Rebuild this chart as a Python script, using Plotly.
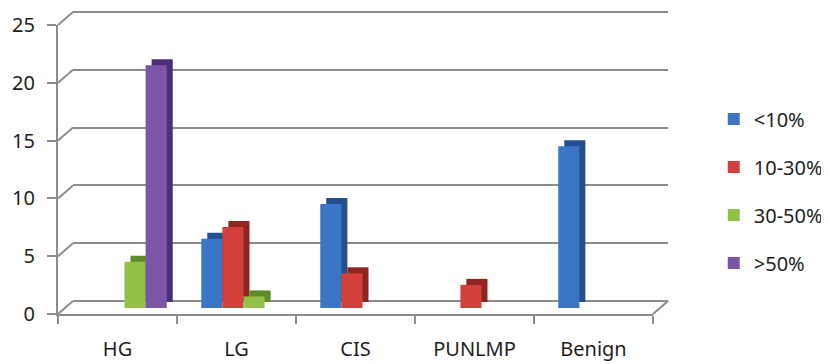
import plotly.graph_objects as go

categories = ["HG", "LG", "CIS", "PUNLMP", "Benign"]
series_names = ["<10%", "10-30%", "30-50%", ">50%"]
lt10 = [0, 6, 9, 0, 14]
p10_30 = [0, 7, 3, 2, 0]
p30_50 = [4, 1, 0, 0, 0]
gt50 = [21, 0, 0, 0, 0]
y_ticks = [0, 5, 10, 15, 20, 25]

series_values = [lt10, p10_30, p30_50, gt50]
front_colors = ["#3B76C6", "#D33F3B", "#93C046", "#7B56A6"]
side_colors = ["#234F8E", "#8F2421", "#5E8A27", "#4B2F78"]

# page body adds an 8px margin, so the figure is shrunk/shifted to fit
OFF = 8
W, H = 829 - OFF, 364 - OFF
L, R, T, B = 58 - OFF, 668 - OFF, 12 - OFF, 314 - OFF
PW, PH = R - L, B - T
DX, DY = 15, 13          # depth of back wall
YMAX = 25
ypx = 289 / YMAX         # px per unit


def xd(a, b):
    return [a / PW, b / PW]


def yd(a, b):
    return [a / PH, b / PH]


fig = go.Figure()

# invisible traces to keep the front axes and the back wall axes
fig.add_trace(go.Scatter(x=categories, y=[None] * 5, xaxis="x", yaxis="y",
                         showlegend=False, hoverinfo="skip"))
fig.add_trace(go.Scatter(x=categories, y=[None] * 5, xaxis="x2", yaxis="y2",
                         showlegend=False, hoverinfo="skip"))

# side / depth faces (drawn first)
for vals, col in zip(series_values, side_colors):
    fig.add_trace(go.Bar(x=categories, y=vals, marker_color=col, marker_line_width=0,
                         xaxis="x3", yaxis="y3", showlegend=False, hoverinfo="skip"))

# front faces
for name, vals, col in zip(series_names, series_values, front_colors):
    fig.add_trace(go.Bar(x=categories, y=vals, name=name, marker_color=col,
                         marker_line_width=0, xaxis="x4", yaxis="y4", legendgroup=name))

grid_col = "#8C8C8C"
font = dict(family="Noto Sans, Open Sans, sans-serif", size=20, color="#1E1E1E")
xfont = dict(family="Noto Sans, Open Sans, sans-serif", size=20, color="#1E1E1E")

common_x = dict(range=[-0.5, 4.5], type="category", showgrid=False, zeroline=False,
                showticklabels=False, ticks="", showline=False, fixedrange=True)
common_y = dict(range=[0, YMAX], showgrid=False, zeroline=False,
                showticklabels=False, ticks="", showline=False, fixedrange=True)

fig.update_layout(
    width=W, height=H,
    margin=dict(l=L, r=W - R, t=T, b=H - B, pad=0, autoexpand=False),
    paper_bgcolor="white", plot_bgcolor="rgba(0,0,0,0)",
    font=font,
    barmode="group", bargap=0.29, bargroupgap=0,
    showlegend=True,
    legend=dict(x=1.075, y=0.71, xanchor="left", yanchor="top",
                font=dict(size=20, color="#1E1E1E"), tracegroupgap=19,
                itemwidth=30, bgcolor="rgba(0,0,0,0)"),
    xaxis=dict(domain=xd(0, PW - DX), range=[-0.5, 4.5], type="category",
               categoryarray=categories, showline=True, linecolor=grid_col, linewidth=2,
               ticks="outside", tickson="boundaries", ticklen=8, tickwidth=2,
               tickcolor=grid_col, showgrid=False, zeroline=False, ticklabelstandoff=16,
               tickfont=xfont, anchor="y", fixedrange=True),
    yaxis=dict(domain=yd(0, PH - DY), range=[0, YMAX], tickvals=y_ticks,
               showline=True, linecolor=grid_col, linewidth=2, ticks="outside",
               ticklen=9, tickwidth=2, tickcolor=grid_col, showgrid=False,
               zeroline=False, ticklabelstandoff=8, tickfont=font, anchor="x",
               fixedrange=True),
    xaxis2=dict(common_x, domain=xd(DX, PW), anchor="y2"),
    yaxis2=dict(domain=yd(DY - 1, PH), range=[-0.087, YMAX], tickvals=y_ticks,
                showgrid=True, gridcolor=grid_col, gridwidth=2, zeroline=False,
                showticklabels=False, ticks="", anchor="x2", fixedrange=True),
    xaxis3=dict(common_x, domain=xd(13, PW - 2), anchor="y3"),
    yaxis3=dict(common_y, domain=yd(12, PH - 1), anchor="x3"),
    xaxis4=dict(common_x, domain=xd(7, PW - 8), anchor="y4"),
    yaxis4=dict(common_y, domain=yd(6, PH - 7), anchor="x4"),
)

# perspective connectors from the front axis to the back wall
shapes = []
for v in y_ticks:
    y0 = v * ypx / PH
    y1 = (DY + v * ypx) / PH
    shapes.append(dict(type="line", xref="paper", yref="paper", x0=0, y0=y0,
                       x1=DX / PW, y1=y1, line=dict(color=grid_col, width=2), layer="below"))
# top back gridline (at the edge of the back wall)
shapes.append(dict(type="line", xref="paper", yref="paper", x0=DX / PW, y0=1,
                   x1=1, y1=1, line=dict(color=grid_col, width=2), layer="below"))
shapes.append(dict(type="line", xref="paper", yref="paper", x0=(PW - DX) / PW, y0=0,
                   x1=1, y1=DY / PH, line=dict(color=grid_col, width=2), layer="below"))
fig.update_layout(shapes=shapes)

fig.write_html("out.html")
